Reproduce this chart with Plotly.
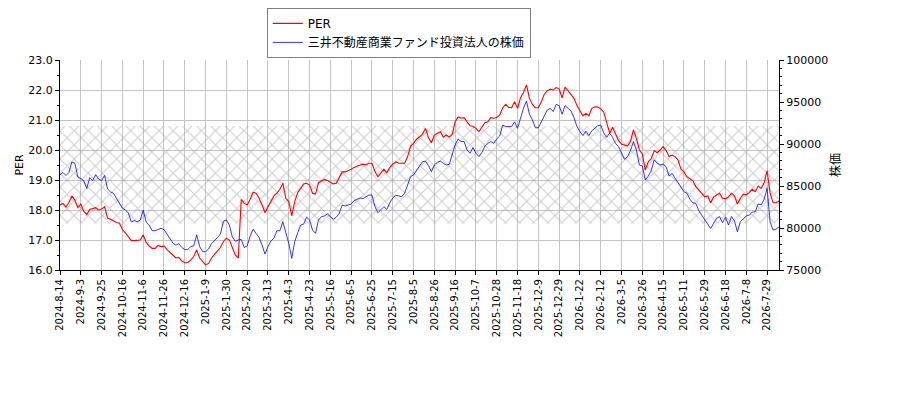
import plotly.graph_objects as go

# ---- data ----
tick_labels = [
    "2024-8-14", "2024-9-3", "2024-9-25", "2024-10-16", "2024-11-6", "2024-11-26",
    "2024-12-16", "2025-1-9", "2025-1-30", "2025-2-20", "2025-3-13", "2025-4-3",
    "2025-4-23", "2025-5-16", "2025-6-5", "2025-6-25", "2025-7-15", "2025-8-5",
    "2025-8-26", "2025-9-16", "2025-10-7", "2025-10-28", "2025-11-18", "2025-12-9",
    "2025-12-29", "2026-1-22", "2026-2-12", "2026-3-5", "2026-3-26", "2026-4-15",
    "2026-5-11", "2026-5-29", "2026-6-18", "2026-7-8", "2026-7-29",
]
# trading-day index of each labelled date (one label every 14 trading days)
tick_days = list(range(0, 477, 14))

# samples every 2 trading days
trading_day = list(range(0, 485, 2))

per_values = [
    18.17, 18.22, 18.1, 18.25, 18.47, 18.33, 18.08, 18.2, 17.95, 17.85, 18.02, 18.04,
    18.08, 18.0, 18.03, 18.11, 17.73, 17.69, 17.62, 17.58, 17.56, 17.35, 17.24, 17.12,
    16.98, 16.98, 16.98, 17.0, 17.17, 16.92, 16.8, 16.72, 16.72, 16.82, 16.78, 16.8,
    16.68, 16.6, 16.5, 16.4, 16.42, 16.3, 16.24, 16.25, 16.33, 16.45, 16.67, 16.4,
    16.28, 16.17, 16.22, 16.4, 16.52, 16.62, 16.75, 16.95, 17.06, 17.0, 16.75, 16.5,
    16.4,
    18.35, 18.22, 18.17, 18.36, 18.59, 18.56, 18.39, 18.17, 17.91, 18.11, 18.31, 18.47,
    18.56, 18.69, 18.89, 18.39, 18.28, 17.8, 18.28, 18.58, 18.72, 18.87, 18.89, 18.83,
    18.56, 18.53, 18.91, 18.98, 19.02, 18.98, 18.93, 18.87, 18.89, 19.06, 19.27, 19.27,
    19.31, 19.36, 19.42, 19.47, 19.5, 19.53, 19.5, 19.56, 19.56, 19.28, 19.11, 19.24,
    19.36, 19.24, 19.42, 19.53, 19.61, 19.56, 19.56, 19.56, 19.78, 20.13, 20.22, 20.36,
    20.44, 20.53,
    20.72, 20.41, 20.24, 20.5, 20.56, 20.61, 20.43, 20.5, 20.43, 20.52, 20.94, 21.1,
    21.06, 21.08, 20.94, 20.81, 20.79, 20.72, 20.61, 20.77, 20.91, 20.94, 21.08, 21.06,
    21.08, 21.17, 21.41, 21.52, 21.42, 21.41, 21.61, 21.39, 21.74, 21.92, 22.17, 21.72,
    21.52, 21.41, 21.41, 21.61, 21.86, 21.97, 22.03, 22.0, 22.08, 22.03, 21.74, 22.1,
    21.97, 21.88, 21.72, 21.48, 21.33, 21.14, 21.22, 21.14, 21.39, 21.44, 21.43, 21.37,
    21.26,
    20.91, 20.56, 20.76, 20.56, 20.31, 20.2, 20.17, 20.13, 20.28, 20.67, 20.39, 20.0,
    19.87, 19.33, 19.61, 19.71, 19.98, 19.91, 20.0, 20.11, 19.98, 19.78, 19.83, 19.78,
    19.67, 19.36, 19.27, 19.11, 19.04, 18.98, 18.78, 18.67, 18.56, 18.44, 18.47, 18.24,
    18.44, 18.51, 18.56, 18.39, 18.38, 18.44, 18.56, 18.47, 18.2, 18.39, 18.53, 18.51,
    18.58, 18.69, 18.61, 18.8, 18.72, 18.91, 19.31, 18.56, 18.24, 18.24, 18.3,
]

price_values = [
    86320, 86610, 86250, 86610, 87860, 87710, 86070, 85890, 85610, 84710, 86000, 85640,
    86360, 85820, 85640, 86250, 84640, 84290, 84140, 83570, 83040, 82360, 82140, 81790,
    80710, 80890, 80750, 80930, 82140, 80710, 80360, 79680, 79680, 79860, 79960, 79820,
    79290, 78710, 78210, 77960, 78140, 77680, 77430, 77430, 77790, 77860, 79180, 77790,
    77180, 77180, 77500, 78140, 78460, 78860, 79290, 80790, 80960, 80360, 78930, 78430,
    78570,
    78640, 77680, 77860, 79040, 79860, 79360, 78890, 77960, 76890, 77790, 78460, 78790,
    79680, 79680, 80750, 79430, 78180, 76390, 78360, 79430, 80360, 80460, 81290, 80960,
    79750, 79360, 80960, 81360, 81430, 81680, 81360, 81040, 81290, 81750, 82750, 82610,
    82750, 82860, 83250, 83430, 83570, 83500, 83710, 83930, 83930, 82540, 81820, 82140,
    82540, 82210, 83000, 83570, 83890, 83820, 83710, 84140, 85110, 86110, 86320, 86820,
    87290, 87890,
    87960, 87430, 86710, 87500, 87820, 87960, 87710, 87500, 87570, 88790, 89890, 90610,
    90290, 90290, 89290, 88890, 89570, 88890, 88500, 89000, 89750, 90070, 90290, 90070,
    90610, 90960, 92250, 92070, 92070, 92070, 92640, 91860, 93070, 94250, 95110, 93540,
    92860, 91930, 91930, 92640, 93460, 94040, 94250, 93860, 94710, 94570, 93540, 94570,
    94250, 93930, 93140, 92070, 91460, 91000, 91540, 91000, 91570, 91860, 92180, 92250,
    91320,
    90790, 91290, 90790, 90070, 89680, 88820, 88180, 88500, 89210, 90290, 89290, 87500,
    87390, 85710, 86180, 86820, 88110, 87710, 87500, 87610, 87290, 86180, 86500, 85930,
    85390, 84710, 84320, 84140, 83430, 83000, 82930, 82070, 81540, 81040, 80570, 79930,
    80570, 81140, 81360, 80640, 81290, 80360, 81360, 80860, 79540, 80750, 81110, 81430,
    81540, 81890, 81930, 82860, 82750, 83430, 84710, 80750, 79750, 79860, 80140,
]

band_low, band_high = 17.55, 20.8

FONT = "DejaVu Sans, Noto Sans CJK JP, sans-serif"

fig = go.Figure()

# hatched band
x0, x1 = trading_day[0], trading_day[-1]
fig.add_trace(go.Scatter(
    x=[x0, x1, x1, x0, x0],
    y=[band_low, band_low, band_high, band_high, band_low],
    mode="lines", line=dict(width=0),
    fill="toself", fillcolor="rgba(0,0,0,0)",
    fillpattern=dict(shape="x", fgcolor="#999999", bgcolor="rgba(0,0,0,0)",
                     size=10, solidity=0.2),
    showlegend=False, hoverinfo="skip",
))

fig.add_trace(go.Scatter(
    x=trading_day, y=per_values, mode="lines", name="PER",
    line=dict(color="#ff0000", width=1.1),
))
fig.add_trace(go.Scatter(
    x=trading_day, y=price_values, mode="lines", name="三井不動産商業ファンド投資法人の株価",
    line=dict(color="#0000ff", width=0.8), yaxis="y2",
))

# the page adds an 8px body margin, so the figure is 8px smaller and margins shifted
fig.update_layout(
    width=892, height=392,
    margin=dict(l=52, r=121, t=52, b=130, autoexpand=False),
    plot_bgcolor="white", paper_bgcolor="white",
    font=dict(family=FONT, size=11, color="black"),
    legend=dict(
        x=0.2875, y=1.248, xanchor="left", yanchor="top",
        bgcolor="white", bordercolor="#808080", borderwidth=1,
        font=dict(family=FONT, size=12, color="black"),
        itemwidth=30, tracegroupgap=0,
    ),
    xaxis=dict(
        range=[x0, x1], tickmode="array", tickvals=tick_days, ticktext=tick_labels,
        tickangle=-90, tickfont=dict(size=10), automargin=False,
        showgrid=True, gridcolor="#c4c4c4", gridwidth=1,
        showline=True, linecolor="black", linewidth=1,
        ticks="outside", ticklen=4, tickcolor="black", zeroline=False,
    ),
    yaxis=dict(
        range=[16, 23], dtick=1, tickformat=".1f", tickfont=dict(size=11),
        automargin=False,
        showgrid=True, gridcolor="#c4c4c4", gridwidth=1,
        showline=True, linecolor="black", linewidth=1,
        ticks="outside", ticklen=4, tickcolor="black", zeroline=False,
        minor=dict(dtick=0.5, ticks="outside", ticklen=2, tickcolor="black", showgrid=False),
        title=dict(text="PER", font=dict(size=11), standoff=2),
    ),
    yaxis2=dict(
        overlaying="y", side="right", automargin=False,
        range=[75000, 100000], dtick=5000, tickformat="d", tickfont=dict(size=11),
        showgrid=False, showline=True, linecolor="black", linewidth=1,
        ticks="outside", ticklen=4, tickcolor="black", zeroline=False,
        minor=dict(dtick=1000, ticks="outside", ticklen=2, tickcolor="black"),
        title=dict(text="株価", font=dict(size=12), standoff=4),
    ),
)

fig.write_html("out.html")
